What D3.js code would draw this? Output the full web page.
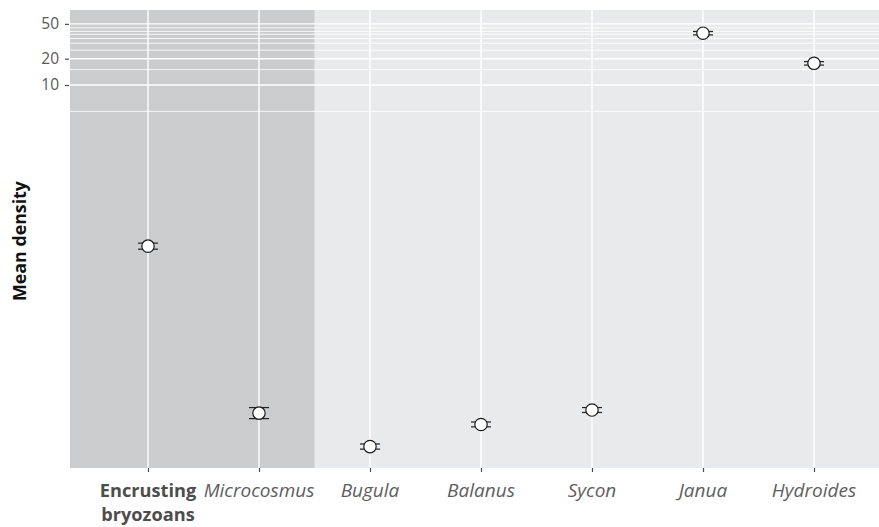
<!DOCTYPE html>
<html>
<head>
<meta charset="utf-8">
<script src="https://cdn.jsdelivr.net/npm/d3@7/dist/d3.min.js"></script>
<style>
  html, body { margin: 0; padding: 0; background: #ffffff; }
  svg { display: block; font-family: "Open Sans", "Noto Sans", sans-serif; }
</style>
</head>
<body>
<svg id="chart" width="879" height="527"></svg>
<script>
// Taxa along the x axis
const categories = ["Encrusting bryozoans", "Microcosmus", "Bugula", "Balanus", "Sycon", "Janua", "Hydroides"];
// Mean density per taxon, with lower and upper error limits
const meanDensity = [0.144, 0.00178, 0.000738, 0.00132, 0.00193, 39.1, 17.7];
const lowerLimit  = [0.133, 0.00154, 0.00069, 0.00124, 0.00181, 37.4, 16.9];
const upperLimit  = [0.156, 0.00206, 0.00079, 0.00141, 0.00206, 40.9, 18.5];
// Labelled y breaks and the unlabelled minor grid values
const yTickValues = [10, 20, 50];
const yMinorValues = [5, 15, 25, 30, 34, 38, 41, 45];
// Taxa that sit in the shaded group at the left
const shadedGroup = ["Encrusting bryozoans", "Microcosmus"];

const svg = d3.select("#chart");
const panel = { left: 70, right: 879, top: 10, bottom: 468 };

const x = d3.scalePoint()
  .domain(categories)
  .range([148, 814]);
const step = x.step();

const y = d3.scaleLog()
  .domain([0.00042, 72])
  .range([panel.bottom, panel.top]);

// Panel background
svg.append("rect")
  .attr("x", panel.left).attr("y", panel.top)
  .attr("width", panel.right - panel.left)
  .attr("height", panel.bottom - panel.top)
  .attr("fill", "#e9eaeb");

// Shaded group background
const lastShaded = shadedGroup[shadedGroup.length - 1];
svg.append("rect")
  .attr("x", panel.left).attr("y", panel.top)
  .attr("width", x(lastShaded) + step / 2 - panel.left)
  .attr("height", panel.bottom - panel.top)
  .attr("fill", "#cbcccd");

// Grid lines
const grid = svg.append("g");
grid.selectAll("line.minor")
  .data(yMinorValues)
  .join("line")
  .attr("class", "minor")
  .attr("x1", panel.left).attr("x2", panel.right)
  .attr("y1", d => y(d)).attr("y2", d => y(d))
  .attr("stroke", "#ffffff").attr("stroke-width", 1)
  .attr("stroke-opacity", 0.85);
grid.selectAll("line.major")
  .data(yTickValues)
  .join("line")
  .attr("class", "major")
  .attr("x1", panel.left).attr("x2", panel.right)
  .attr("y1", d => y(d)).attr("y2", d => y(d))
  .attr("stroke", "#ffffff").attr("stroke-width", 1.4);
grid.selectAll("line.vert")
  .data(categories)
  .join("line")
  .attr("class", "vert")
  .attr("x1", d => x(d)).attr("x2", d => x(d))
  .attr("y1", panel.top).attr("y2", panel.bottom)
  .attr("stroke", "#ffffff").attr("stroke-width", 1.4);

// Y axis
const yAxis = svg.append("g")
  .attr("transform", `translate(${panel.left - 1},0)`)
  .call(d3.axisLeft(y).tickValues(yTickValues).tickFormat(d3.format("d")).tickSize(4).tickPadding(6));
yAxis.select(".domain").remove();
yAxis.selectAll(".tick line").attr("stroke", "#4d4d4d").attr("stroke-width", 1.2);
yAxis.selectAll(".tick text")
  .attr("fill", "#595959")
  .style("font-size", "15.5px")
  .style("font-family", "'Open Sans', sans-serif");

// X axis
const xAxis = svg.append("g")
  .attr("transform", `translate(0,${panel.bottom})`)
  .call(d3.axisBottom(x).tickSize(4).tickFormat(""));
xAxis.select(".domain").remove();
xAxis.selectAll(".tick line").attr("stroke", "#4d4d4d").attr("stroke-width", 1.2);

// X labels: common-name group in bold upright, genera in italics
const labels = svg.append("g");
categories.forEach(c => {
  const t = labels.append("text")
    .attr("x", x(c))
    .attr("y", 497)
    .attr("text-anchor", "middle");
  if (c === "Encrusting bryozoans") {
    t.attr("fill", "#4d4d4d").style("font-weight", "700").style("font-size", "18.2px");
    const words = c.split(" ");
    words.forEach((w, i) => {
      t.append("tspan").attr("x", x(c)).attr("dy", i === 0 ? 0 : 24).text(w);
    });
  } else {
    t.attr("fill", "#5e5e5e").style("font-style", "italic").style("font-size", "19px").text(c);
  }
});

// Y title
svg.append("text")
  .attr("transform", `translate(26,${(panel.top + panel.bottom) / 2 + 2}) rotate(-90)`)
  .attr("text-anchor", "middle")
  .attr("fill", "#111111")
  .style("font-size", "17.8px")
  .style("font-weight", "700")
  .text("Mean density");

// Error bars and points
const rows = categories.map((c, i) => ({ c, m: meanDensity[i], lo: lowerLimit[i], hi: upperLimit[i] }));
const capHalf = 10;
const marks = svg.append("g");
const bars = marks.selectAll("g.bar").data(rows).join("g").attr("class", "bar");
bars.append("line")
  .attr("x1", d => x(d.c)).attr("x2", d => x(d.c))
  .attr("y1", d => y(d.lo)).attr("y2", d => y(d.hi))
  .attr("stroke", "#222").attr("stroke-width", 1);
bars.append("line")
  .attr("x1", d => x(d.c) - capHalf).attr("x2", d => x(d.c) + capHalf)
  .attr("y1", d => y(d.lo)).attr("y2", d => y(d.lo))
  .attr("stroke", "#222").attr("stroke-width", 1.2);
bars.append("line")
  .attr("x1", d => x(d.c) - capHalf).attr("x2", d => x(d.c) + capHalf)
  .attr("y1", d => y(d.hi)).attr("y2", d => y(d.hi))
  .attr("stroke", "#222").attr("stroke-width", 1.2);
bars.append("circle")
  .attr("cx", d => x(d.c)).attr("cy", d => y(d.m))
  .attr("r", 6.2)
  .attr("fill", "#ffffff")
  .attr("stroke", "#1a1a1a").attr("stroke-width", 1.2);
</script>
</body>
</html>
